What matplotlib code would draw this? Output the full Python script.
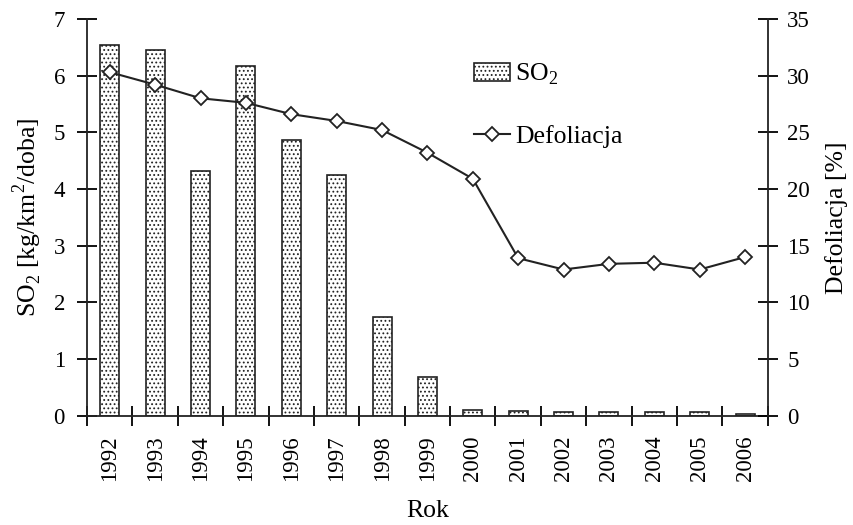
import numpy as np
import matplotlib.pyplot as plt

plt.rcParams['font.family'] = ['Liberation Serif', 'DejaVu Serif']
plt.rcParams['mathtext.fontset'] = 'custom'
plt.rcParams['mathtext.rm'] = 'Liberation Serif'
plt.rcParams['hatch.color'] = '#666666'
plt.rcParams['hatch.linewidth'] = 0.8

years = ['1992', '1993', '1994', '1995', '1996', '1997', '1998', '1999',
         '2000', '2001', '2002', '2003', '2004', '2005', '2006']
so2 = [6.54, 6.45, 4.32, 6.17, 4.87, 4.25, 1.75, 0.69,
       0.10, 0.08, 0.07, 0.07, 0.06, 0.06, 0.04]
defol = [30.3, 29.2, 28.0, 27.6, 26.6, 26.0, 25.2, 23.2,
         20.9, 13.9, 12.9, 13.4, 13.5, 12.9, 14.0]

x = np.arange(len(years))
fs = 16.5   # tick labels
lfs = 18.5  # axis labels and legend

fig = plt.figure(figsize=(8.54, 5.25), dpi=100)
ax1 = fig.add_axes([0.102, 0.208, 0.797, 0.756])
ax2 = ax1.twinx()

bars = ax1.bar(x, so2, width=0.42, color='white', edgecolor='#222222',
               linewidth=1.2, hatch='....', label='SO$_2$')
line, = ax2.plot(x, defol, color='#222222', linewidth=1.5, marker='D',
                 markersize=7, markerfacecolor='white', markeredgecolor='#222222',
                 markeredgewidth=1.3, label='Defoliacja')

ax1.set_xlim(-0.5, len(years) - 0.5)
ax1.set_ylim(0, 7)
ax2.set_ylim(0, 35)
ax1.set_yticks(np.arange(0, 7.1, 1))
ax2.set_yticks(np.arange(0, 35.1, 5))

# category ticks on the boundaries, labels centred under the bars
ax1.set_xticks(np.arange(-0.5, len(years), 1))
ax1.set_xticklabels([])
ax1.set_xticks(x, minor=True)
ax1.set_xticklabels(years, minor=True, rotation=90, fontsize=fs)
ax1.tick_params(axis='x', which='minor', length=0, pad=14)
ax1.tick_params(axis='x', which='major', direction='inout', length=14, width=1.3)

for ax in (ax1, ax2):
    ax.spines['top'].set_visible(False)
    for s in ax.spines.values():
        s.set_linewidth(1.3)
        s.set_color('#222222')
ax1.spines['right'].set_visible(False)
ax2.spines['left'].set_visible(False)
ax2.spines['bottom'].set_visible(False)

ax1.tick_params(axis='y', direction='inout', length=14, width=1.3, labelsize=fs, pad=9)
ax2.tick_params(axis='y', direction='inout', length=14, width=1.3, labelsize=fs, pad=7)

ax1.set_ylabel('SO$_2$ [kg/km$^2$/doba]', fontsize=lfs, labelpad=7)
ax2.set_ylabel('Defoliacja [%]', fontsize=lfs, labelpad=11)
ax1.set_xlabel('Rok', fontsize=lfs, labelpad=14)

ax1.legend([bars, line], ['SO$_2$', 'Defoliacja'], loc='upper left',
           bbox_to_anchor=(0.535, 0.95), frameon=False, fontsize=lfs,
           labelspacing=1.45, handlelength=1.4, handletextpad=0.2)

fig.savefig('out.png', dpi=100)
